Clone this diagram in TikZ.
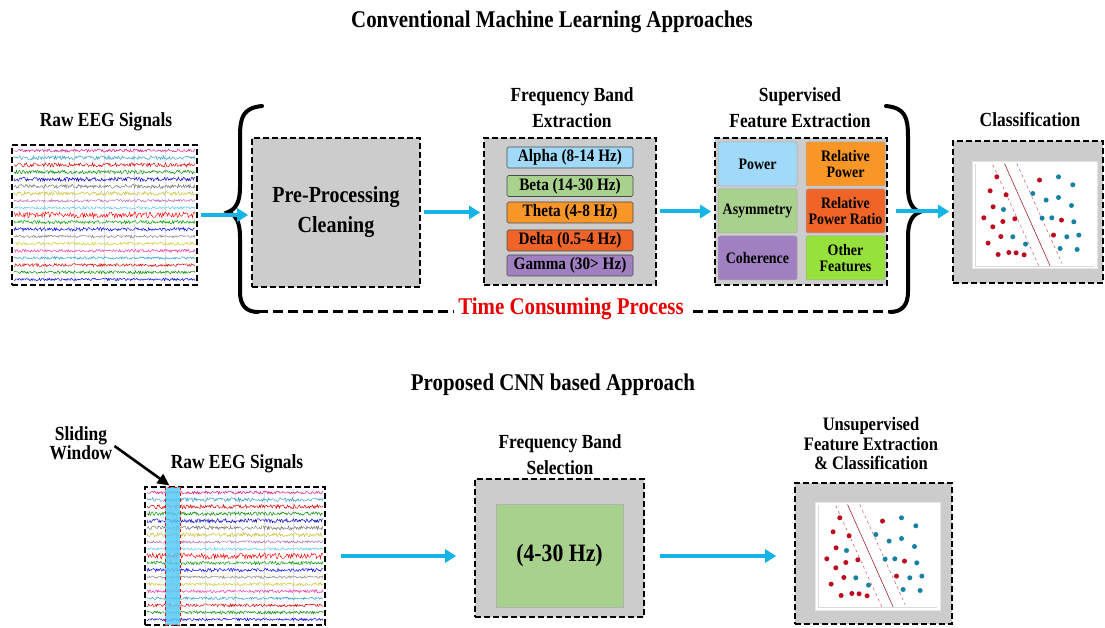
\documentclass[tikz,border=0pt]{standalone}
\usepackage{fontspec}
\setmainfont{Liberation Serif}[FakeStretch=0.87]
\usetikzlibrary{arrows.meta, positioning}

\definecolor{cyanflow}{RGB}{20,180,230}
\definecolor{boxgray}{RGB}{204,204,204}
\definecolor{alphac}{RGB}{160,218,248}
\definecolor{betac}{RGB}{169,209,142}
\definecolor{thetac}{RGB}{248,150,40}
\definecolor{deltac}{RGB}{240,100,40}
\definecolor{gammac}{RGB}{160,128,192}
\definecolor{otherc}{RGB}{150,225,60}
\definecolor{dotred}{RGB}{190,10,30}
\definecolor{dotblue}{RGB}{20,130,160}
\definecolor{timered}{RGB}{230,0,0}

% multichannel EEG traces: left x, top y, width, height
\newcommand{\eegtraces}[4]{%
  \foreach \k in {1,...,5}
    \draw[black!12, line width=0.4pt] ({#1+\k*#3/6},#2) -- ({#1+\k*#3/6},{#2-#4});
  \foreach \c/\a [count=\i] in {magenta!80!violet/1.5, cyan!80!black/2.0, red!85!black/2.1,
      green!55!black/1.8, blue!80!black/2.1, black!55/2.0, yellow!75!black/2.0, violet!60/1.3,
      cyan!70/1.3, red/3.0, green!60!black/1.8, blue/1.8, black!50/1.3, yellow!80!black/1.5,
      magenta!80/1.5, cyan!80!black/1.3, red!85!black/1.5, green!55!black/1.5, blue/1.3}
    \draw[color=\c, line width=0.45pt] plot[domain=0:#3, samples=220, variable=\t]
      ({#1+\t}, {#2-(\i-0.5)*#4/19+\a*rand});
}

% SVM style scatter plot, drawn from the top left corner of the white area
\newcommand{\svmplot}[1]{%
  \begin{scope}[shift={(#1)}, yscale=-1]
    \draw[black!15, line width=0.5pt] (3,3) -- (3,105) -- (122,105);
    \draw[dotred!70, line width=0.5pt, dashed] (21,4) -- (67,105);
    \draw[dotred!80!black, line width=0.5pt] (32.7,2.7) -- (78.3,105);
    \draw[dotred!70, line width=0.5pt, dashed] (45,2.7) -- (90.3,102.7);
    \foreach \px/\py in {25/16, 18.3/30, 34.3/34, 21.3/46, 12/57, 31/60.7, 43/58, 21/66,
        29/75.7, 16.3/82.3, 26.3/93.7, 37/91.7, 44.3/92, 52.3/94, 67.7/19.3, 89.7/59.3, 81.7/74.3}
      \fill[dotred] (\px,\py) circle (2.5pt);
    \foreach \px/\py in {86.7/16, 101/24, 61/32.7, 74.3/39.3, 86.7/36.7, 99.7/44.7, 31.7/48.7,
        70.3/57.3, 80/57, 102/61, 41/76, 95/76, 107/74.3, 53.7/83.3, 88.3/87.7, 105.3/88.7}
      \fill[dotblue] (\px,\py) circle (2.5pt);
  \end{scope}}

\begin{document}
\begin{tikzpicture}[
    x=1pt, y=1pt,
    lbl/.style={font=\fontsize{20}{26}\selectfont\bfseries, align=center, inner sep=0pt},
    dashbox/.style={draw=black, fill=boxgray, line width=1.6pt, dash pattern=on 6pt off 3pt, inner sep=0pt},
    signalbox/.style={draw=black, fill=white, line width=1.6pt, dash pattern=on 6pt off 3pt, inner sep=0pt},
    band/.style={draw=black!70, line width=0.6pt, rounded corners=1.5pt, minimum width=126pt, minimum height=21pt,
        font=\fontsize{17.5}{18}\selectfont\bfseries, inner sep=0pt},
    cell/.style={draw=black!35, line width=0.5pt, rounded corners=2pt, minimum width=79pt, minimum height=44pt,
        font=\fontsize{16}{16.5}\selectfont\bfseries, align=center, inner sep=0pt},
    plotarea/.style={fill=white, draw=black!10, line width=0.4pt, inner sep=0pt},
    flow/.style={cyanflow, line width=4pt, -{Triangle[length=11pt,width=13pt]}, shorten >=3pt, shorten <=3pt},
    bracket/.style={line width=4pt, line cap=round},
    timeline/.style={draw=black, line width=3pt, dash pattern=on 10pt off 5pt}
]
\useasboundingbox (0,0) rectangle (1105,627);

% Conventional pipeline
\node[lbl, font=\fontsize{24}{28}\selectfont\bfseries] (titleA) at (552,605) {Conventional Machine Learning Approaches};

\node[signalbox, minimum width=185pt, minimum height=140pt] (eegA) at (104.5,412) {};
\pgfmathsetseed{11}
\eegtraces{14}{480}{181}{136}
\node[lbl] (rawA) at (106,505) {Raw EEG Signals};

\node[dashbox, minimum width=168pt, minimum height=149pt, font=\fontsize{23}{30}\selectfont\bfseries, align=center]
    (prep) at (336,414.5) {Pre-Processing\\Cleaning};

\node[dashbox, minimum width=172pt, minimum height=147pt] (freq) at (570,415.5) {};
\node[lbl] (freqlbl) at (572,519) {Frequency Band\\Extraction};
\node[band, fill=alphac] (alpha) at (570,469.5) {Alpha (8-14 Hz)};
\node[band, fill=betac]  (beta)  at (570,441) {Beta (14-30 Hz)};
\node[band, fill=thetac] (theta) at (570,414.5) {Theta (4-8 Hz)};
\node[band, fill=deltac] (delta) at (570,386.5) {Delta (0.5-4 Hz)};
\node[band, fill=gammac] (gamma) at (570,361.5) {Gamma (30> Hz)};

\node[dashbox, minimum width=172pt, minimum height=147pt] (feat) at (801,415.5) {};
\node[lbl] (featlbl) at (800,519) {Supervised\\Feature Extraction};
\node[cell, fill=alphac] (power)  at (757.5,463) {Power};
\node[cell, fill=thetac] (relpow) at (845.5,463) {Relative\\Power};
\node[cell, fill=betac]  (asym)   at (757.5,416) {Asymmetry};
\node[cell, fill=deltac] (ratio)  at (845.5,416) {Relative\\Power Ratio};
\node[cell, fill=gammac] (coh)    at (757.5,369) {Coherence};
\node[cell, fill=otherc] (other)  at (845.5,369) {Other\\Features};

\node[dashbox, minimum width=150pt, minimum height=142pt] (classA) at (1028,415) {};
\node[lbl] (classlbl) at (1030,507) {Classification};
\node[plotarea, minimum width=125pt, minimum height=107pt] (plotA) at (1034.5,412.5) {};
\svmplot{plotA.north west}

% braces and time consuming process
\coordinate (lbend) at (258,315);
\coordinate (rbend) at (890,315);
\draw[timeline] (lbend) -- (rbend);
\draw[bracket] (262,521) .. controls (243,519) and (240,510) .. (240,490) -- (240,440)
    .. controls (240,425) and (236,418) .. (228,415) .. controls (236,412) and (240,405) .. (240,390)
    -- (240,335) .. controls (240,322) and (246,315) .. (lbend);
\draw[bracket] (886,521) .. controls (905,519) and (908,510) .. (908,490) -- (908,440)
    .. controls (908,425) and (912,418) .. (920,415) .. controls (912,412) and (908,405) .. (908,390)
    -- (908,335) .. controls (908,322) and (902,315) .. (rbend);
\node[lbl, font=\fontsize{24}{28}\selectfont\bfseries, text=timered, fill=white, inner sep=4pt] (timelbl) at (571,318) {Time Consuming Process};

\draw[flow] (eegA.east) -- (eegA.east -| prep.west);
\draw[flow] (prep.east) -- (prep.east -| freq.west);
\draw[flow] (freq.east) -- (freq.east -| feat.west);
\draw[flow, shorten <=8pt] (feat.east) -- (feat.east -| classA.west);

% Proposed pipeline
\node[lbl, font=\fontsize{24}{28}\selectfont\bfseries] (titleB) at (553,242) {Proposed CNN based Approach};

\node[signalbox, minimum width=180pt, minimum height=138pt] (eegB) at (235,71) {};
\pgfmathsetseed{11}
\eegtraces{147}{138}{176}{134}
\node[draw=red, dashed, line width=1pt, fill=cyan!65, fill opacity=0.85, minimum width=15pt, minimum height=138pt,
    inner sep=0pt] (win) at (172.5,71) {};
\node[lbl] (rawB) at (237,163) {Raw EEG Signals};
\node[lbl, font=\fontsize{20}{18}\selectfont\bfseries] (slidelbl) at (81,184) {Sliding\\Window};
\draw[line width=2.6pt, -{Triangle[length=12pt,width=11pt]}] ([xshift=2pt,yshift=-3pt]slidelbl.east) -- ([xshift=-3pt,yshift=1pt]win.north);

\node[dashbox, minimum width=169pt, minimum height=138pt] (sel) at (559.5,79) {};
\node[lbl] (sellbl) at (560,172) {Frequency Band\\Selection};
\node[draw=black!30, line width=0.5pt, fill=betac, minimum width=127pt, minimum height=103pt, inner sep=0pt,
    font=\fontsize{25}{28}\selectfont\bfseries] (selin) at (559.5,71.5) {(4-30 Hz)};

\node[dashbox, minimum width=157pt, minimum height=141pt] (unsup) at (873.5,73.5) {};
\node[lbl, font=\fontsize{19}{19.5}\selectfont\bfseries] (unsuplbl) at (871,183) {Unsupervised\\Feature Extraction\\\& Classification};
\node[plotarea, minimum width=125pt, minimum height=108pt] (plotB) at (877.5,71) {};
\svmplot{plotB.north west}

\draw[flow, shorten <=15pt, shorten >=18pt] (eegB.east) -- (eegB.east -| sel.west);
\draw[flow, shorten <=15pt, shorten >=18pt] (sel.east |- eegB.east) -- (eegB.east -| unsup.west);

\end{tikzpicture}
\end{document}
